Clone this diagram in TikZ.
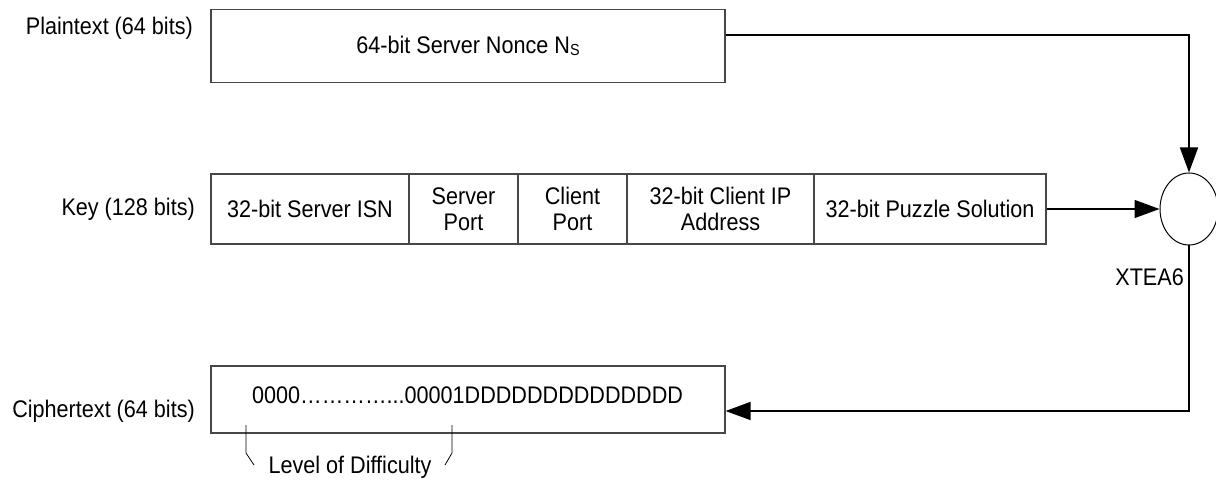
\documentclass[tikz,border=0pt]{standalone}
\usepackage{fontspec}
\setmainfont{Liberation Sans}[FakeStretch=0.9]
\usetikzlibrary{arrows.meta,shapes.geometric}
\tikzset{
  lbl/.style={font=\fontsize{24}{27}\selectfont, inner sep=0pt},
  field/.style={draw=black!72, line width=1.2pt, rectangle, inner sep=0pt,
    font=\fontsize{24}{26}\selectfont, align=center},
  conn/.style={draw=black, line width=1.5pt},
  tip/.style={-{Triangle[length=25pt,width=18pt]}},
  brk/.style={draw=black, line width=0.8pt},
}
\begin{document}
\begin{tikzpicture}[x=1pt,y=-1pt]
\useasboundingbox (0,0) rectangle (1216,489);

% row labels
\node[lbl, anchor=east] (lpt) at (193,28) {Plaintext (64 bits)};
\node[lbl, anchor=east] (lkey) at (195,209) {Key (128 bits)};
\node[lbl, anchor=east] (lct) at (195,411) {Ciphertext (64 bits)};

% plaintext block
\node[field, minimum width=514pt, minimum height=73pt] (pt) at (468,46)
  {64-bit Server Nonce N\raisebox{-2pt}{\fontsize{16}{16}\selectfont S}};

% key block, five fields
\node[field, minimum width=198pt, minimum height=70pt] (f1) at (310,209) {32-bit Server ISN};
\node[field, minimum width=109pt, minimum height=70pt] (f2) at (463.5,209) {Server\\Port};
\node[field, minimum width=109pt, minimum height=70pt] (f3) at (572.5,209) {Client\\Port};
\node[field, minimum width=187pt, minimum height=70pt] (f4) at (720.5,209) {32-bit Client IP\\Address};
\node[field, minimum width=232pt, minimum height=70pt] (f5) at (930,209) {32-bit Puzzle Solution};

% ciphertext block
\node[field, minimum width=514pt, minimum height=67pt] (ct) at (468,399.5) {};
\node[lbl, anchor=base west] (ctxt) at (252,403) {0000…………...00001DDDDDDDDDDDDDD};

% cipher
\node[draw=black, line width=1pt, ellipse, minimum width=58pt, minimum height=72pt, inner sep=0pt] (xtea) at (1189,209) {};
\node[lbl, anchor=east] (xlabel) at (1184,277) {XTEA6};

% connectors
\draw[conn, tip] ([yshift=11pt]pt.east) -| (xtea.north);
\draw[conn, tip] (f5.east) -- (xtea.west);
\draw[conn, tip] (xtea.south) |- ([yshift=-11.5pt]ct.east);

% difficulty bracket
\coordinate (b1) at (246,425);
\coordinate (b2) at (452,425);
\node[lbl] (lod) at (350,467) {Level of Difficulty};
\draw[brk] (b1) -- ++(0,28) -- ++(8,12);
\draw[brk] (b2) -- ++(0,28) -- ++(-7,12);
\end{tikzpicture}
\end{document}
